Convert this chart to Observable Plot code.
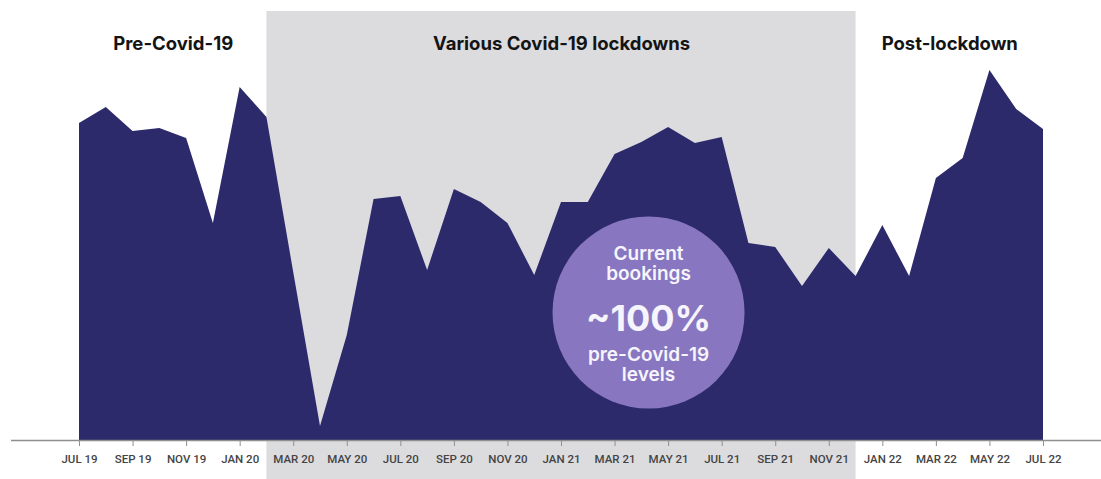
<!DOCTYPE html>
<html>
<head>
<meta charset="utf-8">
<script src="https://cdn.jsdelivr.net/npm/d3@7"></script>
<script src="https://cdn.jsdelivr.net/npm/@observablehq/plot@0.6"></script>
<style>
  html, body { margin: 0; padding: 0; background: #ffffff; }
  #chart svg { display: block; font-family: Inter, "Noto Sans", sans-serif; }
</style>
</head>
<body>
<div id="chart"></div>
<script>
// Monthly bookings, July 2019 – July 2022 (index, pre-pandemic scale)
const months = [
  "JUL 19", "AUG 19", "SEP 19", "OCT 19", "NOV 19", "DEC 19",
  "JAN 20", "FEB 20", "MAR 20", "APR 20", "MAY 20", "JUN 20",
  "JUL 20", "AUG 20", "SEP 20", "OCT 20", "NOV 20", "DEC 20",
  "JAN 21", "FEB 21", "MAR 21", "APR 21", "MAY 21", "JUN 21",
  "JUL 21", "AUG 21", "SEP 21", "OCT 21", "NOV 21", "DEC 21",
  "JAN 22", "FEB 22", "MAR 22", "APR 22", "MAY 22", "JUN 22",
  "JUL 22"
];
const bookings = [
  317, 333, 309, 312, 302, 217,
  353, 323, 168, 14, 105, 241,
  244, 170, 251, 238, 217, 165,
  238, 238, 286, 298, 313, 297,
  303, 197, 193, 154, 192, 164,
  215, 164, 262, 282, 370, 331,
  311
];

// Axis tick labels (every other month)
const tickLabels = [
  "JUL 19", "SEP 19", "NOV 19", "JAN 20", "MAR 20", "MAY 20", "JUL 20",
  "SEP 20", "NOV 20", "JAN 21", "MAR 21", "MAY 21", "JUL 21", "SEP 21",
  "NOV 21", "JAN 22", "MAR 22", "MAY 22", "JUL 22"
];

// Periods shown as headings; the lockdown period is shaded
const periodNames = ["Pre-Covid-19", "Various Covid-19 lockdowns", "Post-lockdown"];
const periodFrom = ["JUL 19", "FEB 20", "DEC 21"];
const periodTo = ["FEB 20", "DEC 21", "JUL 22"];
const shadedPeriod = "Various Covid-19 lockdowns";

// Callout text
const calloutLines = ["Current", "bookings", "~100%", "pre-Covid-19", "levels"];

// ---- derived tables ----
const idx = (m) => months.indexOf(m);
const series = months.map((m, i) => ({i, month: m, value: bookings[i]}));
const periods = periodNames.map((name, k) => ({
  name, x1: idx(periodFrom[k]), x2: idx(periodTo[k])
}));
const ticks = tickLabels.map((label) => ({label, x: idx(label)}));

// Callout placement (in chart units) and look: three text blocks
const callout = {x: 21.25, y: 128};
const calloutBlocks = [
  {text: calloutLines.slice(0, 2).join("\n"), size: 19, weight: 600, dy: -49},
  {text: calloutLines[2], size: 36, weight: 700, dy: 7},
  {text: calloutLines.slice(3).join("\n"), size: 19, weight: 600, dy: 52}
];

const navy = "#2c2a6b";
const band = "#dcdcdf";
const lilac = "#8877c0";

const chart = Plot.plot({
  width: 1101,
  height: 479,
  marginTop: 11,
  marginBottom: 0,
  marginLeft: 11,
  marginRight: 0,
  x: {type: "linear", domain: [0, months.length - 1], range: [79, 1043], axis: null},
  y: {domain: [-39, 429], axis: null},
  marks: [
    // shaded lockdown period (spans full height, behind everything)
    Plot.rect(periods.filter((p) => p.name === shadedPeriod), {
      x1: "x1", x2: "x2", fill: band
    }),
    // period headings
    Plot.text(periods, {
      x: (p) => (p.x1 + p.x2) / 2,
      frameAnchor: "top",
      dy: 25,
      text: "name",
      fontSize: 18.5,
      fontWeight: 700,
      fill: "#141414",
      letterSpacing: "-0.3px"
    }),
    // bookings area
    Plot.areaY(series, {x: "i", y: "value", fill: navy, curve: "linear"}),
    // baseline axis
    Plot.ruleY([0], {stroke: "#8f8f8f", strokeWidth: 1.3}),
    Plot.ruleX(ticks, {x: "x", y1: 0, y2: -6, stroke: "#8f8f8f", strokeWidth: 1}),
    Plot.text(ticks, {
      x: "x", y: 0, dy: 19, text: "label",
      fontFamily: "Roboto, Inter, sans-serif",
      fontSize: 11.5, fontWeight: 500, fill: "#444444", letterSpacing: "-0.45px"
    }),
    // callout bubble
    Plot.dot([callout], {x: "x", y: "y", r: 96, fill: lilac, stroke: null}),
    ...calloutBlocks.map((b) =>
      Plot.text([callout], {
        x: "x", y: "y", text: () => b.text,
        dy: b.dy,
        lineHeight: 1.03,
        fontSize: b.size,
        fontWeight: b.weight,
        fill: "#f6f4fc",
        letterSpacing: "-0.3px"
      })
    )
  ]
});

document.getElementById("chart").appendChild(chart);
</script>
</body>
</html>
